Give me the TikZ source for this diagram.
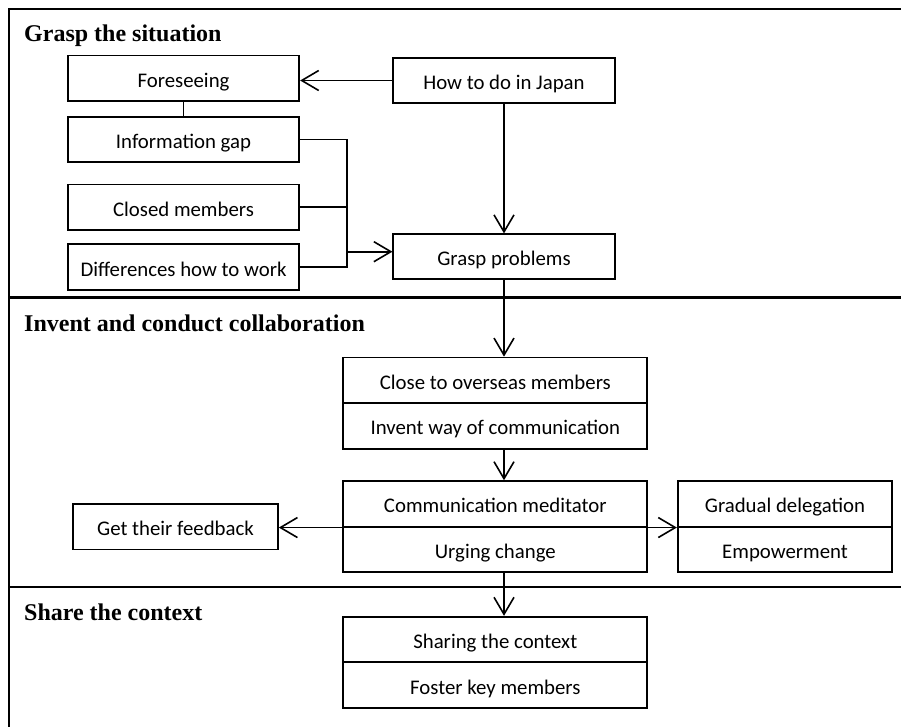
\documentclass[tikz,border=0pt]{standalone}
\usepackage{fontspec}
\setmainfont{Liberation Serif}
\newfontfamily\boxfont{Carlito}
\usetikzlibrary{arrows.meta}
\begin{document}
\begin{tikzpicture}[x=1pt,y=-1pt,
  bx/.style={draw,line width=1.7pt,inner sep=0pt,minimum height=45.6pt,
    text height=18pt,text depth=0pt,
    font=\boxfont\fontsize{20.8}{24}\selectfont},
  leftbox/.style={bx,minimum width=231.6pt},
  midbox/.style={bx,minimum width=304pt},
  sectitle/.style={anchor=base west,inner sep=0pt,font=\bfseries\fontsize{24}{28}\selectfont},
  frame/.style={line width=2.6pt},
  arr/.style={line width=1.6pt,-{Straight Barb[length=17pt,width=20pt,line width=1.6pt]}},
  ln/.style={line width=1.6pt}]
\useasboundingbox (0,0) rectangle (901,727);
% frame and section dividers
\draw[frame] (9,727) -- (9,9) -- (901,9);
\draw[frame] (9,297.5) -- (901,297.5);
\draw[frame] (9,587) -- (901,587);
% section titles
\node[sectitle] (t1) at (24,41.7) {Grasp the situation};
\node[sectitle] (t2) at (24,331.7) {Invent and conduct collaboration};
\node[sectitle] (t3) at (24,620.7) {Share the context};
% section 1
\node[leftbox] (fore) at (183.5,78.4) {Foreseeing};
\node[leftbox] (info) at (183.5,139.5) {Information gap};
\node[leftbox] (closed) at (183.5,207.2) {Closed members};
\node[leftbox] (diff) at (183.5,267) {Differences how to work};
\node[bx,minimum width=221.4pt] (japan) at (504,80.5) {How to do in Japan};
\node[bx,minimum width=221.4pt,minimum height=45pt] (grasp) at (504,256.8) {Grasp problems};
% section 2
\node[midbox] (close) at (495.3,380.3) {Close to overseas members};
\node[midbox] (invent) at (495.3,425.9) {Invent way of communication};
\node[midbox] (comm) at (495.3,503.9) {Communication meditator};
\node[midbox] (urge) at (495.3,549.5) {Urging change};
\node[bx,minimum width=205pt] (feed) at (175.5,526.6) {Get their feedback};
\node[bx,minimum width=214.6pt] (grad) at (785,503.9) {Gradual delegation};
\node[bx,minimum width=214.6pt] (emp) at (785,549.5) {Empowerment};
% section 3
\node[midbox] (share) at (495.3,639.5) {Sharing the context};
\node[midbox] (foster) at (495.3,685.1) {Foster key members};
% connectors
\coordinate (jbot) at (346.7,267);
\coordinate (j) at (346.7,251.7);
\coordinate (ax) at (504,0);
\draw[ln] (fore.south) -- (info.north);
\draw[arr] (japan.west) -- (japan.west -| fore.east);
\draw[arr] (japan.south) -- (grasp.north);
\draw[ln] (info.east) -| (jbot) -- (diff.east);
\draw[ln] (closed.east) -- (closed.east -| jbot);
\draw[arr] (j) -- (j -| grasp.west);
\draw[arr] (grasp.south) -- (ax |- close.north);
\draw[arr] (ax |- invent.south) -- (ax |- comm.north);
\draw[arr] (comm.south west) -- (comm.south west -| feed.east);
\draw[arr] (comm.south east) -- (grad.south west);
\draw[arr] (ax |- urge.south) -- (ax |- share.north);
\end{tikzpicture}
\end{document}
